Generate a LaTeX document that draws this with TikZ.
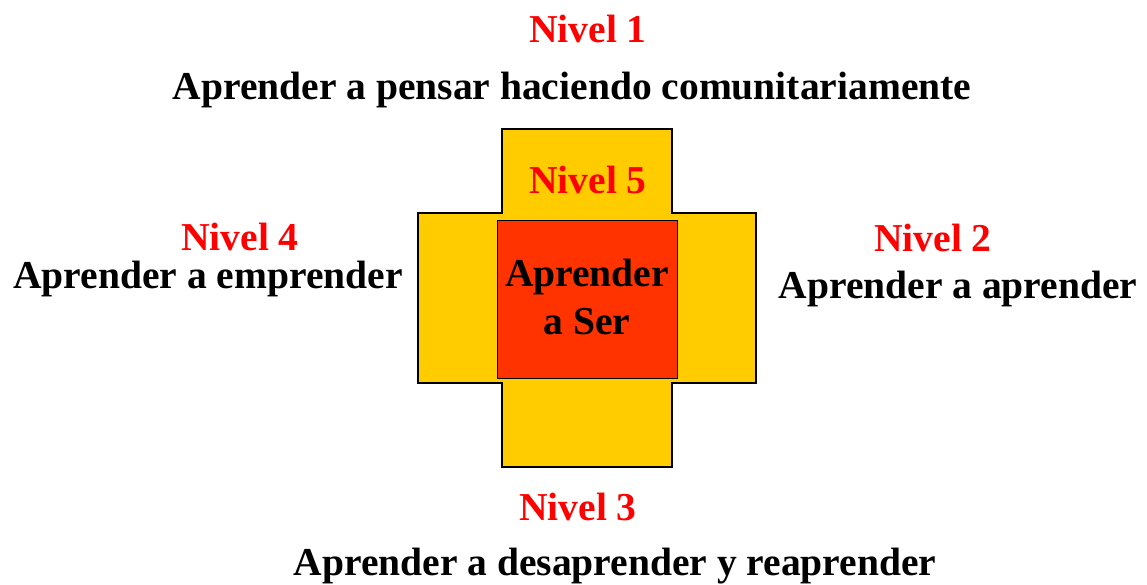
\documentclass[tikz,border=0pt]{standalone}
\usepackage{fontspec}
\setmainfont{Liberation Serif}
\definecolor{crossyellow}{HTML}{FFCC00}
\definecolor{coreorange}{HTML}{FF3300}
\definecolor{levelred}{HTML}{FF0000}

\begin{document}
\begin{tikzpicture}[x=0.02cm, y=-0.02cm,
        nivel/.style={text=levelred, inner sep=0pt, font=\fontsize{22.5}{27}\selectfont\bfseries},
        lema/.style={text=black, inner sep=0pt, font=\fontsize{22.5}{27}\selectfont\bfseries},
        ]
                \useasboundingbox (0,0) rectangle (1147,585);

                % the cross
                \draw[fill=crossyellow, line width=1.7pt]
                    (502,129) -- (672,129) -- (672,213) -- (756,213) -- (756,383)
                    -- (672,383) -- (672,467) -- (502,467) -- (502,383) -- (418,383)
                    -- (418,213) -- (502,213) -- cycle;
                \node[draw=black, thin, fill=coreorange, minimum width=180*0.02cm, minimum height=158*0.02cm,
                      inner sep=0pt] at (587,299) (ser) {};
                \node[lema, align=center, font=\fontsize{22.5}{27.5}\selectfont\bfseries] at (587,297) (sertxt) {Aprender\\a Ser};

                \node[nivel]  at(588,29)  (n1) {Nivel 1};
                \node[lema]   at(572,90)  (l1) {Aprender a pensar haciendo comunitariamente};
                \node[nivel]  at(933,238) (n2) {Nivel 2};
                \node[lema]   at(958,289) (l2) {Aprender a aprender};
                \node[nivel]  at(578,507) (n3) {Nivel 3};
                \node[lema]   at(615,566) (l3) {Aprender a desaprender y reaprender};
                \node[nivel]  at(240,237) (n4) {Nivel 4};
                \node[lema]   at(208,279) (l4) {Aprender a emprender};
                \node[nivel]  at(588,180) (n5) {Nivel 5};

            \end{tikzpicture}
\end{document}
